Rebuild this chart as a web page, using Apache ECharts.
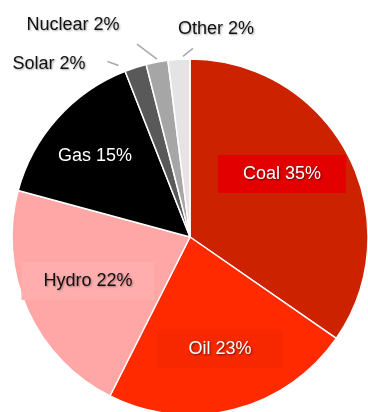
<!DOCTYPE html>
<html>
<head>
<meta charset="utf-8">
<script src="https://cdn.jsdelivr.net/npm/echarts@6/dist/echarts.min.js"></script>
<style>
  html, body { margin: 0; padding: 0; background: #ffffff; }
  #chart { width: 368px; height: 412px; }
</style>
</head>
<body>
<div id="chart"></div>
<script>
// Electricity generation mix, share by source (%)
const sources = ['Coal', 'Oil', 'Hydro', 'Gas', 'Solar', 'Nuclear', 'Other'];
const shares = [35, 23, 22, 15, 2, 2, 2];

// Slice fills
const sliceColors = ['#cc2200', '#ff2a00', '#ffa6a6', '#000000', '#595959', '#a6a6a6', '#e4e4e4'];

// Where each label sits (label centre, px)
const labelCentres = {
  Coal: [282, 174], Oil: [220, 349], Hydro: [88, 281], Gas: [95, 156],
  Solar: [49, 64], Nuclear: [73, 25], Other: [216, 29]
};
// Short leader segments for the thin slices, relative to the slice's outer-edge point
const leaderOffsets = {
  Solar: [[-28, -6], [-17, -2]],
  Nuclear: [[-20, -18], [0, -3]],
  Other: [[4, -3], [14, -11]]
};
const outsideSources = ['Solar', 'Nuclear', 'Other'];

const darkShadow = { textShadowColor: 'rgba(0,0,0,0.55)', textShadowBlur: 2, textShadowOffsetX: 1, textShadowOffsetY: 1 };
const lightShadow = { textShadowColor: 'rgba(0,0,0,0.35)', textShadowBlur: 2, textShadowOffsetX: 1, textShadowOffsetY: 1 };

// Per-label look
const labelLooks = {
  Coal: Object.assign({ color: '#ffffff', backgroundColor: '#e20000', padding: [9, 25] }, darkShadow),
  Oil: Object.assign({ color: '#ffffff', backgroundColor: '#f72800', padding: [9, 31] }, darkShadow),
  Hydro: Object.assign({ color: '#111111', backgroundColor: '#ffadad', padding: [9, 22] }, lightShadow),
  Gas: Object.assign({ color: '#ffffff' }, darkShadow),
  Solar: Object.assign({ color: '#111111' }, lightShadow),
  Nuclear: Object.assign({ color: '#111111' }, lightShadow),
  Other: Object.assign({ color: '#111111' }, lightShadow)
};

const pieData = sources.map((name, i) => {
  const outside = outsideSources.includes(name);
  return {
    name: name,
    value: shares[i],
    itemStyle: { color: sliceColors[i] },
    label: Object.assign({ position: outside ? 'outside' : 'inside' }, labelLooks[name]),
    labelLine: { show: outside }
  };
});

const chart = echarts.init(document.getElementById('chart'), null, { renderer: 'canvas' });
chart.setOption({
  backgroundColor: '#ffffff',
  animation: false,
  series: [{
    type: 'pie',
    center: [190, 237],
    radius: 178,
    startAngle: 90,
    clockwise: true,
    avoidLabelOverlap: false,
    data: pieData,
    itemStyle: { borderColor: '#ffffff', borderWidth: 1.5 },
    label: {
      show: true,
      formatter: '{b} {c}%',
      fontFamily: 'Liberation Sans, Arial, sans-serif',
      fontSize: 18,
      lineHeight: 20
    },
    labelLine: {
      show: false,
      length: 12,
      length2: 0,
      lineStyle: { color: '#a9a9a9', width: 1.5 }
    },
    labelLayout: function (params) {
      const name = sources[params.dataIndex];
      const c = labelCentres[name];
      const out = { x: c[0], y: c[1], align: 'center', verticalAlign: 'middle' };
      const off = leaderOffsets[name];
      if (off && params.labelLinePoints) {
        const p0 = params.labelLinePoints[0];
        out.labelLinePoints = off.map(o => [p0[0] + o[0], p0[1] + o[1]]);
      }
      return out;
    }
  }]
});
</script>
</body>
</html>
